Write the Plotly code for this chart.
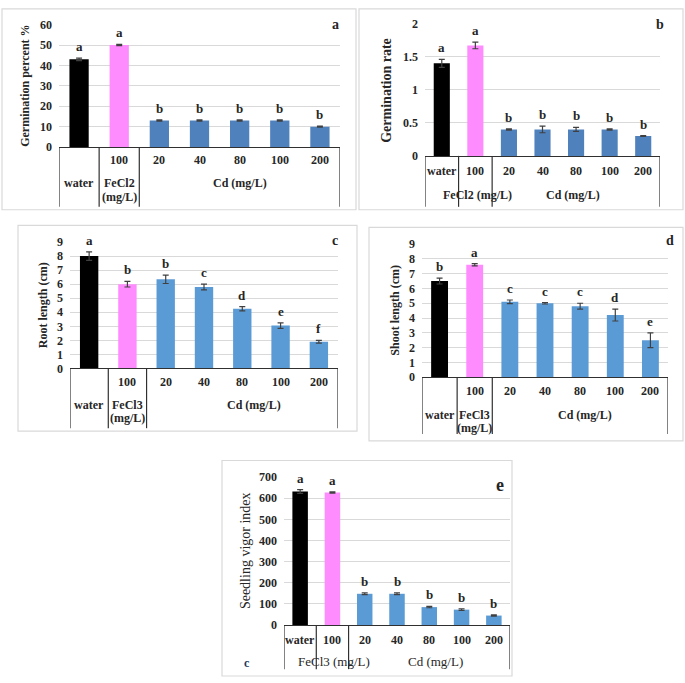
import plotly.graph_objects as go

# Data
# -------------------------------------------------------------------------------------------------
treatments = ["water", "FeCl 100", "Cd 20", "Cd 40", "Cd 80", "Cd 100", "Cd 200"]
dose_labels = ["", "100", "20", "40", "80", "100", "200"]

germ_percent = [43, 50, 13, 13, 13, 13, 10]
germ_percent_err = [0.6, 0.3, 0.3, 0.3, 0.3, 0.3, 0.3]
germ_percent_sig = ["a", "a", "b", "b", "b", "b", "b"]

germ_rate = [1.40, 1.67, 0.40, 0.40, 0.40, 0.40, 0.30]
germ_rate_err = [0.06, 0.05, 0.01, 0.05, 0.03, 0.01, 0.005]
germ_rate_sig = ["a", "a", "b", "b", "b", "b", "b"]

root_length = [8.0, 6.0, 6.35, 5.8, 4.25, 3.05, 1.9]
root_length_err = [0.3, 0.2, 0.3, 0.2, 0.15, 0.2, 0.1]
root_length_sig = ["a", "b", "b", "c", "d", "e", "f"]

shoot_length = [6.5, 7.6, 5.1, 5.0, 4.8, 4.2, 2.5]
shoot_length_err = [0.2, 0.08, 0.12, 0.05, 0.2, 0.4, 0.5]
shoot_length_sig = ["b", "a", "c", "c", "c", "d", "e"]

vigor_index = [632, 627, 148, 148, 85, 73, 45]
vigor_index_err = [9, 3, 4, 4, 3, 4, 3]
vigor_index_sig = ["a", "a", "b", "b", "b", "b", "b"]

# Figure geometry (pixels of a 685x683 page)
W, H = 685, 683
FONT = "Liberation Serif"
TXT = "#262626"
BLACK = "#000000"
PINK = "#FF8CFF"
BLUE_DARK = "#4F81BD"
BLUE_LIGHT = "#5B9BD5"


def px(x):
    return x / W


def py(y):
    return 1 - y / H


fig = go.Figure()
shapes = []
annotations = []
letter_txt = {1: "a", 2: "b", 3: "c", 4: "d", 5: "e"}


def label(x, y, text, font, xref="paper", yref="paper", **kw):
    d = dict(x=x, y=y, xref=xref, yref=yref, text=text, showarrow=False,
             xanchor="center", yanchor="middle", font=font)
    d.update(kw)
    annotations.append(d)


def add_panel(n, values, errors, sig, blue, ymax, dtick, tickfmt, ytitle, letter,
              box, plot, title_x, table_bottom, rows, salt, salt_one_row,
              cd_x, letter_size=14, bold_rows=True, title_bold=True, title_size=12):
    xa = "xaxis" if n == 1 else f"xaxis{n}"
    ya = "yaxis" if n == 1 else f"yaxis{n}"
    xr = "x" if n == 1 else f"x{n}"
    yr = "y" if n == 1 else f"y{n}"
    x0, x1, ytop, ybot = plot

    colors = [BLACK, PINK] + [blue] * 5
    fig.add_trace(go.Bar(
        x=list(range(len(treatments))), y=values,
        marker=dict(color=colors, line=dict(width=0)),
        width=0.48,
        error_y=dict(type="data", array=errors, color="#404040", thickness=1.2, width=3),
        xaxis=xr, yaxis=yr, showlegend=False,
        hovertext=treatments,
    ))

    fig.update_layout(**{
        xa: dict(domain=[px(x0), px(x1)], anchor=yr, range=[-0.5, 6.5],
                 showticklabels=False, showgrid=False, zeroline=False,
                 showline=True, linecolor="#303030", linewidth=1.2, fixedrange=True),
        ya: dict(domain=[py(ybot), py(ytop)], anchor=xr, range=[0, ymax], dtick=dtick,
                 tickformat=tickfmt, showgrid=True, gridcolor="#d9d9d9", gridwidth=1,
                 zeroline=False, showline=False, ticklabelstandoff=6,
                 tickfont=dict(family=FONT, size=12, color=TXT, weight="bold")),
    })

    # panel frame
    bx0, by0, bx1, by1 = box
    shapes.append(dict(type="rect", xref="paper", yref="paper",
                       x0=px(bx0), x1=px(bx1), y0=py(by1), y1=py(by0),
                       line=dict(color="#d9d9d9", width=1.2)))

    # category table lines under the axis
    for xv in [-0.5, 0.5, 1.5, 6.5]:
        shapes.append(dict(type="line", xref=xr, yref="paper", x0=xv, x1=xv,
                           y0=py(ybot), y1=py(table_bottom),
                           line=dict(color="#303030", width=1.2)))

    # significance letters
    for i, (v, e, s) in enumerate(zip(values, errors, sig)):
        label(i, v + e, s, dict(family=FONT, size=13, color=TXT, weight="bold"),
              xref=xr, yref=yr, yanchor="bottom", yshift=2)

    row_w = "bold" if bold_rows else "normal"
    rfont = dict(family=FONT, size=12, color=TXT, weight="bold")
    r2font = dict(family=FONT, size=13 if not bold_rows else 12, color=TXT, weight=row_w)
    r1, r2, r3 = rows
    for i, lab in enumerate(dose_labels):
        if lab:
            label(i, py(r1), lab, rfont, xref=xr)
    if salt_one_row:
        label(0, py(r1), "water", rfont, xref=xr)
        label(1.05, py(r2), salt + " (mg/L)", r2font, xref=xr)
    else:
        label(0, py(r2), "water", rfont, xref=xr)
        label(1, py(r2), salt, rfont, xref=xr)
        label(1, py(r3), "(mg/L)", rfont, xref=xr)
    label(cd_x, py(r2), "Cd (mg/L)", r2font, xref=xr)

    # y axis title
    label(px(title_x), py((ytop + ybot) / 2), ytitle,
          dict(family=FONT, size=title_size, color=TXT,
               weight="bold" if title_bold else "normal"), textangle=-90)
    # panel letter
    lx, ly = letter
    label(px(lx), py(ly), letter_txt[n],
          dict(family=FONT, size=letter_size, color=TXT, weight="bold"))


add_panel(1, germ_percent, germ_percent_err, germ_percent_sig, BLUE_DARK, 60, 10, "d",
          "Germination percent %", (335, 18), box=(2, 2, 356, 207),
          plot=(59, 340, 18, 143), title_x=25, table_bottom=204,
          rows=(156, 180, 194), salt="FeCl2", salt_one_row=False, cd_x=4.0)

add_panel(2, germ_rate, germ_rate_err, germ_rate_sig, BLUE_DARK, 2, 0.5, "",
          "Germination rate", (660, 18), box=(359, 2, 683, 207),
          plot=(425, 660, 17, 152), title_x=387, table_bottom=204,
          rows=(167, 192, 0), salt="FeCl2", salt_one_row=True, cd_x=3.9,
          title_size=14)

add_panel(3, root_length, root_length_err, root_length_sig, BLUE_LIGHT, 9, 1, "d",
          "Root length (cm)", (335, 238), box=(18, 223, 357, 433),
          plot=(70, 338, 240, 369), title_x=43, table_bottom=430,
          rows=(383, 406, 420), salt="FeCl3", salt_one_row=False, cd_x=4.3)

add_panel(4, shoot_length, shoot_length_err, shoot_length_sig, BLUE_LIGHT, 9, 1, "d",
          "Shoot length (cm)", (670, 238), box=(369, 225, 683, 443),
          plot=(422, 668, 242, 378), title_x=395, table_bottom=436,
          rows=(392, 417, 430), salt="FeCl3", salt_one_row=False, cd_x=4.15)

add_panel(5, vigor_index, vigor_index_err, vigor_index_sig, BLUE_LIGHT, 700, 100, "d",
          "Seedling vigor index", (500, 488), box=(222, 463, 512, 683),
          plot=(284, 510, 480, 631), title_x=245, table_bottom=676,
          rows=(646, 668, 0), salt="FeCl3", salt_one_row=True, cd_x=4.2,
          letter_size=18, bold_rows=False, title_bold=False, title_size=14)

# stray panel label in the bottom chart
label(px(247), py(670), "c", dict(family=FONT, size=12, color="#1f3a5f", weight="bold"))

fig.update_layout(
    width=W, height=H,
    margin=dict(l=0, r=0, t=0, b=0),
    paper_bgcolor="white", plot_bgcolor="white",
    bargap=0.5,
    shapes=shapes,
    annotations=annotations,
    font=dict(family=FONT, color=TXT),
)

# drop the browser's default body margin so the page is exactly the figure
fig.write_html("out.html", config={"displayModeBar": False},
               post_script="document.body.style.margin = '0px';")
